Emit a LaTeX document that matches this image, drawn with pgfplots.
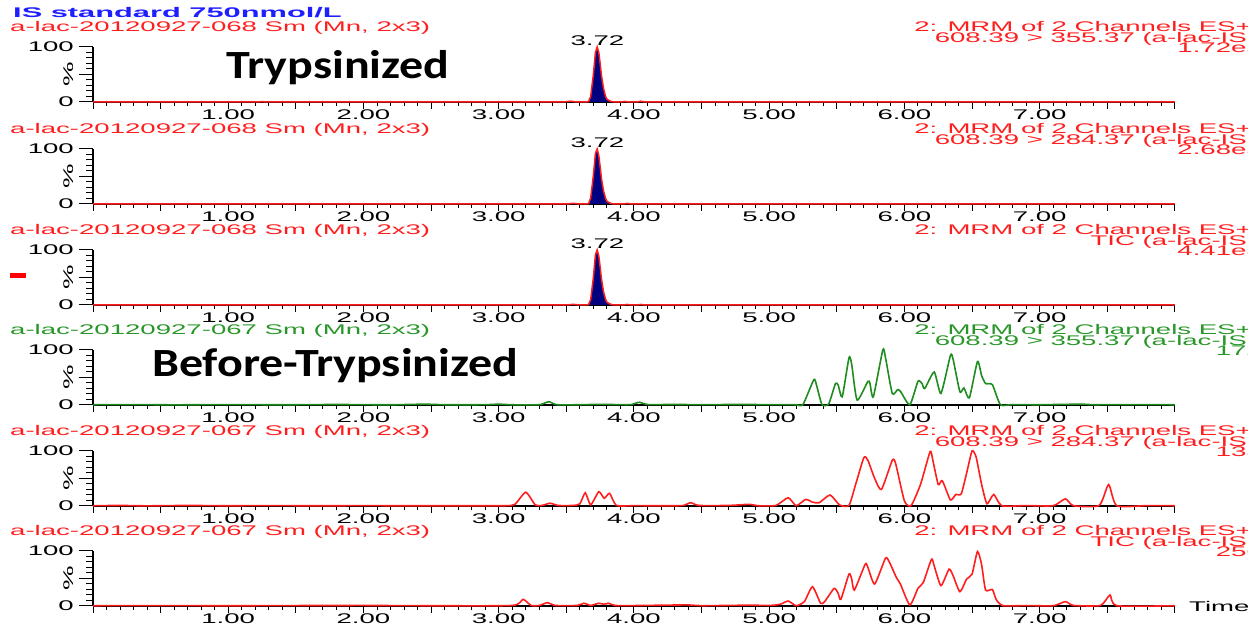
\documentclass[border=0pt]{standalone}
\usepackage{pgfplots}
\pgfplotsset{compat=1.18}
\usepackage{pgfplotstable}
\usepackage{fontspec}
\usepackage{graphicx}
\newfontfamily\mlfont[FakeStretch=1.97]{Liberation Sans}
\newfontfamily\titlefont[FakeStretch=2.2]{Liberation Sans}
\newfontfamily\carlito[FakeStretch=1.2]{Carlito}
\definecolor{mred}{RGB}{255,30,30}
\definecolor{mgreen}{RGB}{30,140,30}
\definecolor{tgreen}{RGB}{40,150,40}
\definecolor{mblue}{RGB}{30,30,255}
\definecolor{navy}{RGB}{0,0,128}

\pgfplotstableread{
t v
0 0
1.20 0
1.25 0.6
1.30 0
3.48 0
3.53 1.5
3.58 0
3.65 0
3.665 1
3.68 10
3.70 50
3.715 90
3.728 100
3.74 90
3.75 70
3.76 48
3.775 25
3.79 10
3.80 5
3.82 2
3.84 0.5
3.86 0
3.90 0
3.93 1
3.96 0
4.02 0
4.05 1.5
4.08 0
8 0
}\pone

\pgfplotstableread{
t v
0 0
3.50 0
3.55 1.2
3.60 0
3.65 0
3.665 1
3.68 11
3.70 52
3.715 92
3.728 100
3.74 88
3.75 68
3.76 46
3.775 24
3.79 10
3.80 5
3.82 2
3.84 0.5
3.86 0
3.92 0
3.95 1.2
3.98 0
8 0
}\ptwo

\pgfplotstableread{
t v
0 0
3.50 0
3.55 1.2
3.60 0
3.65 0
3.665 1
3.68 10
3.70 50
3.715 91
3.728 100
3.74 89
3.75 69
3.76 47
3.775 24
3.79 10
3.80 5
3.82 2
3.84 0.5
3.86 0
3.92 0
3.95 1
3.98 0
4.02 0
4.05 1
4.08 0
8 0
}\pthree

\pgfplotstableread{
t v
0 0.5
0.3 0.8
0.6 0.3
1.0 0.8
1.4 0.4
1.8 0.9
2.2 0.4
2.45 1.5
2.6 0.5
2.9 0.6
3.0 1.5
3.1 0.4
3.30 0.5
3.37 6
3.43 0.5
3.6 0.5
3.75 1.2
3.9 0.6
3.98 0.8
4.04 5
4.10 0.8
4.3 1
4.5 0.6
4.8 1
5.0 0.6
5.1 0.8
5.2 0.5
5.25 1
5.33 46
5.35 36
5.39 1
5.44 2
5.49 39
5.51 36
5.54 15
5.59 86
5.61 74
5.65 9
5.73 43
5.745 39
5.77 15
5.84 100
5.86 86
5.91 21
5.95 28
5.97 25
6.04 0.5
6.10 43
6.13 39
6.15 30
6.22 60
6.27 21
6.34 90
6.36 83
6.41 24
6.44 31
6.48 13
6.54 79
6.57 54
6.60 39
6.65 37
6.71 0.5
6.8 0.8
7.0 0.5
7.3 1.5
7.4 0.5
7.6 0.8
8.0 0.5
}\pfour

\pgfplotstableread{
t v
0 0.5
0.2 1
0.4 0.3
0.7 1
1.0 0.4
1.3 0.8
1.6 0.4
2.0 0.6
2.4 0.4
2.8 0.5
3.05 0.5
3.12 3
3.20 25
3.27 2
3.32 1
3.38 5
3.44 1
3.55 1
3.60 4
3.64 24
3.68 2
3.74 26
3.78 14
3.82 23
3.87 1
4.0 0.6
4.2 0.5
4.36 0.8
4.42 6
4.48 1
4.7 1
4.85 3
4.92 0.5
5.05 1
5.14 15
5.20 0.5
5.27 12
5.32 7
5.37 6
5.45 20
5.52 2
5.59 1
5.64 40
5.70 88
5.73 83
5.78 50
5.83 30
5.91 83
5.935 77
6.00 9
6.05 1
6.12 40
6.19 99
6.21 83
6.25 39
6.28 46
6.34 11
6.38 21
6.42 22
6.46 60
6.50 100
6.53 89
6.57 40
6.61 4
6.66 21
6.72 0.5
6.9 0.8
7.1 0.5
7.19 13
7.25 0.5
7.44 1
7.51 39
7.57 0.5
7.8 0.8
8.0 0.5
}\pfive

\pgfplotstableread{
t v
0 0.5
0.5 0.8
1.0 0.4
1.5 0.8
2.0 1
2.5 0.5
3.10 1
3.18 12
3.24 1
3.30 1
3.36 6
3.42 1
3.58 1
3.63 5
3.68 1
3.74 5
3.78 3
3.81 5
3.86 1
4.0 0.8
4.4 2
4.5 0.5
4.85 1.5
5.0 1
5.08 3
5.14 9
5.20 0.5
5.26 8
5.32 35
5.38 5
5.41 8
5.48 32
5.51 23
5.53 12
5.59 58
5.61 49
5.63 29
5.71 76
5.73 70
5.78 40
5.86 87
5.89 79
5.94 52
5.97 40
6.04 2
6.10 32
6.14 43
6.20 85
6.22 73
6.27 37
6.33 67
6.36 55
6.41 26
6.46 49
6.50 58
6.54 99
6.57 76
6.60 29
6.65 30
6.68 11
6.73 0.5
6.9 0.8
7.1 0.5
7.19 8
7.25 1
7.45 1
7.52 20
7.57 0.5
8.0 0.5
}\psix

\pgfplotsset{
  chrom/.style={
    scale only axis, width=1082pt, height=55pt,
    xmin=0, xmax=8, ymin=0, ymax=100,
    clip=false,
    axis x line*=bottom, axis y line*=left,
    x axis line style={line width=1.2pt, -},
    y axis line style={line width=2.6pt, -},
    tick align=outside,
    major tick length=7pt, minor tick length=4pt,
    every tick/.style={black, line width=1pt},
    xtick={0,0.5,...,8},
    xticklabels={{},{},1.00,{},2.00,{},3.00,{},4.00,{},5.00,{},6.00,{},7.00,{},{}},
    minor x tick num=4,
    ytick={10,20,...,90}, yticklabels={},
    extra y ticks={0,50,100},
    extra y tick labels={0,{\rotatebox{90}{\%}},100},
    extra y tick style={major tick length=14pt},
    tick label style={font=\mlfont\fontsize{14}{14}\selectfont, inner sep=1pt},
    yticklabel style={xshift=-4pt},
  }
}

\newcommand\head[5]{%
  \node[anchor=base west, text=#2, font=\mlfont\fontsize{14}{14}\selectfont, inner sep=0pt] at (10pt,{#1pt+70pt}) {#3};
  \node[anchor=base east, text=#2, font=\mlfont\fontsize{14}{14}\selectfont, inner sep=0pt] at (1252pt,{#1pt+70pt}) {2: MRM of 2 Channels ES+};
  \node[anchor=base east, text=#2, font=\mlfont\fontsize{14}{14}\selectfont, inner sep=0pt] at (1247pt,{#1pt+59pt}) {#4};
  \node[anchor=base east, text=#2, font=\mlfont\fontsize{14}{14}\selectfont, inner sep=0pt] at (1262pt,{#1pt+49pt}) {#5};
}

\begin{document}
\begin{tikzpicture}
\path[use as bounding box] (0pt,0pt) rectangle (1248pt,626pt);
\clip (0pt,0pt) rectangle (1248pt,626pt);

% panel 1
\begin{axis}[chrom, at={(93pt,524pt)}, anchor=south west]
\addplot[fill=navy, draw=none, restrict x to domain=3.65:3.86] table[x=t,y=v] {\pone} \closedcycle;
\addplot[mred, line width=1.5pt] table[x=t,y=v] {\pone};
\node[anchor=base, font=\mlfont\fontsize{14}{14}\selectfont] at (axis cs:3.73,103) {3.72};
\end{axis}
% panel 2
\begin{axis}[chrom, at={(93pt,422pt)}, anchor=south west]
\addplot[fill=navy, draw=none, restrict x to domain=3.65:3.86] table[x=t,y=v] {\ptwo} \closedcycle;
\addplot[mred, line width=1.5pt] table[x=t,y=v] {\ptwo};
\node[anchor=base, font=\mlfont\fontsize{14}{14}\selectfont] at (axis cs:3.73,103) {3.72};
\end{axis}
% panel 3
\begin{axis}[chrom, at={(93pt,321pt)}, anchor=south west]
\addplot[fill=navy, draw=none, restrict x to domain=3.65:3.86] table[x=t,y=v] {\pthree} \closedcycle;
\addplot[mred, line width=1.5pt] table[x=t,y=v] {\pthree};
\node[anchor=base, font=\mlfont\fontsize{14}{14}\selectfont] at (axis cs:3.73,103) {3.72};
\end{axis}
% panel 4
\begin{axis}[chrom, at={(93pt,221pt)}, anchor=south west]
\addplot[mgreen, line width=1.6pt, smooth, tension=0.35] table[x=t,y=v] {\pfour};
\end{axis}
% panel 5
\begin{axis}[chrom, at={(93pt,120pt)}, anchor=south west]
\addplot[mred, line width=1.6pt, smooth, tension=0.35] table[x=t,y=v] {\pfive};
\end{axis}
% panel 6
\begin{axis}[chrom, at={(93pt,20pt)}, anchor=south west]
\addplot[mred, line width=1.6pt, smooth, tension=0.35] table[x=t,y=v] {\psix};
\end{axis}

\node[anchor=base west, text=mblue, font=\titlefont\bfseries\fontsize{14}{14}\selectfont, inner sep=0pt] at (13pt,608pt) {IS standard 750nmol/L};
\head{524}{mred}{a-lac-20120927-068 Sm (Mn, 2x3)}{608.39 > 355.37 (a-lac-IS}{1.72e5}
\head{422}{mred}{a-lac-20120927-068 Sm (Mn, 2x3)}{608.39 > 284.37 (a-lac-IS}{2.68e5}
\head{321}{mred}{a-lac-20120927-068 Sm (Mn, 2x3)}{TIC (a-lac-IS}{4.41e5}
\head{221}{tgreen}{a-lac-20120927-067 Sm (Mn, 2x3)}{608.39 > 355.37 (a-lac-IS}{172}
\head{120}{mred}{a-lac-20120927-067 Sm (Mn, 2x3)}{608.39 > 284.37 (a-lac-IS}{135}
\head{20}{mred}{a-lac-20120927-067 Sm (Mn, 2x3)}{TIC (a-lac-IS}{256}

\fill[red] (10pt,348pt) rectangle (26pt,353pt);
\node[anchor=west, font=\mlfont\fontsize{14}{14}\selectfont, inner sep=0pt] at (1189pt,20pt) {Time};

\node[anchor=base west, font=\carlito\bfseries\fontsize{40}{46}\selectfont, inner sep=0pt] at (226pt,547pt) {Trypsinized};
\node[anchor=base west, font=\carlito\bfseries\fontsize{40}{46}\selectfont, inner sep=0pt] at (152pt,249pt) {Before-Trypsinized};
\end{tikzpicture}
\end{document}
